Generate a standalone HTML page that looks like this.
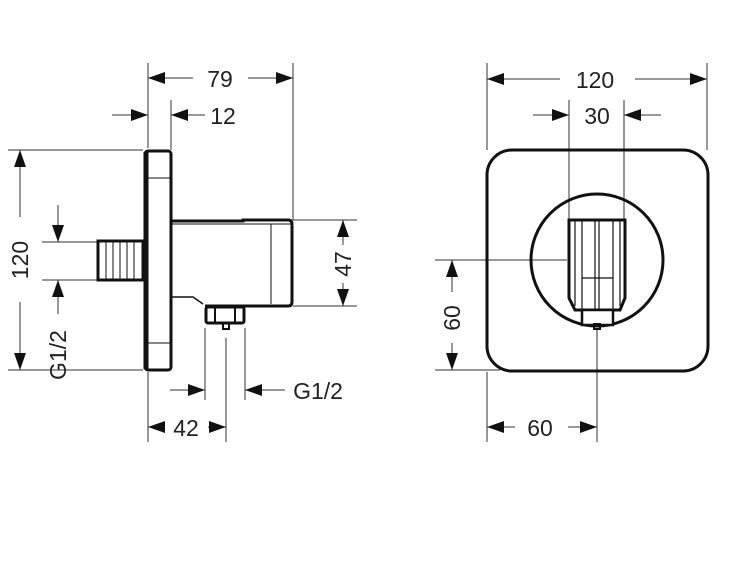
<!DOCTYPE html>
<html><head><style>html,body{margin:0;padding:0;background:#fff}svg{display:block}text{font-family:"Liberation Sans",sans-serif;font-size:23px;fill:#222;text-anchor:middle}</style></head><body>
<svg width="750" height="563" viewBox="0 0 750 563" xmlns="http://www.w3.org/2000/svg">
<defs>
<marker id="a" viewBox="0 0 17 12" refX="17" refY="6" markerWidth="17" markerHeight="12" markerUnits="userSpaceOnUse" orient="auto"><path d="M0,0L17,6L0,12z" fill="#111"/></marker>
</defs>
<g stroke="#333" stroke-width="1" fill="none">
<line x1="148" y1="63" x2="148" y2="148"/>
<line x1="293" y1="63" x2="293" y2="220"/>
<line x1="171" y1="100" x2="171" y2="150"/>
<line x1="8" y1="150" x2="143" y2="150"/>
<line x1="8" y1="370" x2="143" y2="370"/>
<line x1="42" y1="242" x2="98" y2="242"/>
<line x1="42" y1="280" x2="98" y2="280"/>
<line x1="293" y1="220" x2="357" y2="220"/>
<line x1="293" y1="306" x2="357" y2="306"/>
<line x1="205" y1="328" x2="205" y2="400"/>
<line x1="245" y1="328" x2="245" y2="400"/>
<line x1="226" y1="338" x2="226" y2="442"/>
<line x1="148" y1="372" x2="148" y2="442"/>
<line x1="193" y1="78" x2="148" y2="78" marker-end="url(#a)"/>
<line x1="248" y1="78" x2="293" y2="78" marker-end="url(#a)"/>
<line x1="112" y1="115" x2="148" y2="115" marker-end="url(#a)"/>
<line x1="205" y1="115" x2="171" y2="115" marker-end="url(#a)"/>
<line x1="20" y1="217" x2="20" y2="150" marker-end="url(#a)"/>
<line x1="20" y1="302" x2="20" y2="370" marker-end="url(#a)"/>
<line x1="58" y1="205" x2="58" y2="242" marker-end="url(#a)"/>
<line x1="58" y1="314" x2="58" y2="280" marker-end="url(#a)"/>
<line x1="343" y1="245" x2="343" y2="220" marker-end="url(#a)"/>
<line x1="343" y1="283" x2="343" y2="306" marker-end="url(#a)"/>
<line x1="170" y1="390" x2="205" y2="390" marker-end="url(#a)"/>
<line x1="285" y1="390" x2="245" y2="390" marker-end="url(#a)"/>
<line x1="165" y1="427" x2="148" y2="427" marker-end="url(#a)"/>
<line x1="208" y1="427" x2="226" y2="427" marker-end="url(#a)"/>
</g>
<g stroke="#111" fill="none">
<rect x="145" y="151" width="26" height="219" rx="3" stroke-width="3"/>
<line x1="146" y1="152" x2="146" y2="369" stroke-width="5"/>
<line x1="148" y1="178" x2="171" y2="178" stroke-width="1"/>
<line x1="148" y1="343" x2="171" y2="343" stroke-width="1"/>
<rect x="98" y="241" width="45" height="39" stroke-width="3"/>
<g stroke-width="1"><line x1="106" y1="242" x2="106" y2="279"/><line x1="113" y1="242" x2="113" y2="279"/><line x1="120" y1="242" x2="120" y2="279"/><line x1="127" y1="242" x2="127" y2="279"/><line x1="134" y1="242" x2="134" y2="279"/></g>
<path d="M171,221 L243,221 L243,220 L288,220 Q292,220 292,224 L292,302 Q292,306 288,306 L205,306" stroke-width="3"/>
<path d="M171,306 L171,297 L193,297 L203,304" stroke-width="1.5"/>
<line x1="171" y1="224" x2="292" y2="224" stroke-width="1"/>
<line x1="271" y1="224" x2="271" y2="304" stroke-width="1"/>
<rect x="206" y="307" width="38" height="16" rx="2" stroke-width="3"/>
<line x1="215" y1="308" x2="215" y2="322" stroke-width="2"/>
<line x1="235" y1="308" x2="235" y2="322" stroke-width="2"/>
<rect x="223" y="323" width="6" height="6" stroke-width="2"/>
</g>
<text x="220" y="87">79</text>
<text x="223" y="124">12</text>
<text x="318" y="399">G1/2</text>
<text x="186" y="436">42</text>
<text transform="translate(28,260) rotate(-90)">120</text>
<text transform="translate(66,355) rotate(-90)">G1/2</text>
<text transform="translate(351,264) rotate(-90)">47</text>
<g stroke="#333" stroke-width="1" fill="none">
<line x1="487" y1="63" x2="487" y2="150"/>
<line x1="707" y1="63" x2="707" y2="150"/>
<line x1="569" y1="100" x2="569" y2="220"/>
<line x1="624" y1="100" x2="624" y2="220"/>
<line x1="435" y1="260" x2="567" y2="260"/>
<line x1="435" y1="370" x2="500" y2="370"/>
<line x1="597" y1="330" x2="597" y2="442"/>
<line x1="487" y1="372" x2="487" y2="442"/>
<line x1="560" y1="79" x2="487" y2="79" marker-end="url(#a)"/>
<line x1="635" y1="79" x2="707" y2="79" marker-end="url(#a)"/>
<line x1="533" y1="115" x2="569" y2="115" marker-end="url(#a)"/>
<line x1="661" y1="115" x2="624" y2="115" marker-end="url(#a)"/>
<line x1="452" y1="292" x2="452" y2="260" marker-end="url(#a)"/>
<line x1="452" y1="343" x2="452" y2="370" marker-end="url(#a)"/>
<line x1="515" y1="427" x2="487" y2="427" marker-end="url(#a)"/>
<line x1="568" y1="427" x2="597" y2="427" marker-end="url(#a)"/>
</g>
<g stroke="#111" fill="none">
<rect x="487" y="150" width="221" height="221" rx="25" stroke-width="3"/>
<circle cx="597" cy="260" r="66" stroke-width="3"/>
<path d="M569,220 L625,220 L625,298 L620,310 L575,310 L569,298 Z" stroke-width="3" fill="#fff"/>
<g stroke-width="1.2">
<line x1="575" y1="221" x2="575" y2="306"/><line x1="582" y1="221" x2="582" y2="310"/>
<line x1="595" y1="221" x2="595" y2="309"/><line x1="599" y1="221" x2="599" y2="309"/>
<line x1="613" y1="221" x2="613" y2="310"/><line x1="620" y1="221" x2="620" y2="306"/>
<line x1="582" y1="278" x2="613" y2="278"/>
</g>
<rect x="582" y="310" width="31" height="15" stroke-width="2.5" fill="#fff"/>
<rect x="594" y="324" width="6" height="5" stroke-width="2"/>
</g>
<text x="595" y="88">120</text>
<text x="597" y="124">30</text>
<text x="540" y="436">60</text>
<text transform="translate(460,318) rotate(-90)">60</text>
</svg>
</body></html>
